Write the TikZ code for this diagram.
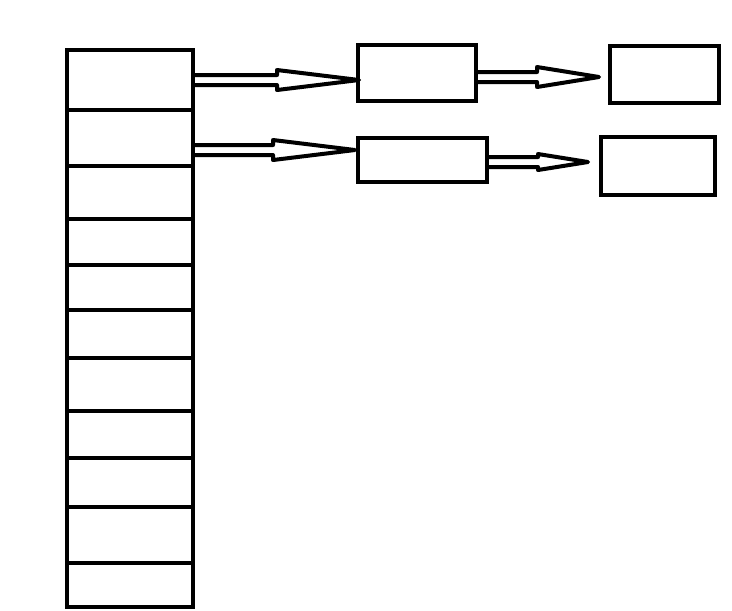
\documentclass[tikz,border=0pt]{standalone}
\usetikzlibrary{calc}

% hollow arrow: start node, tip, head length, head half-height
\newcommand{\hollowarrow}[4]{%
  \draw[harrow] ($(#1 |- #2)+(0,-5)$) -- ($(#2)+(-#3,-5)$) -- ($(#2)+(-#3,-#4)$)
    -- (#2) -- ($(#2)+(-#3,#4)$) -- ($(#2)+(-#3,5)$) -- ($(#1 |- #2)+(0,5)$);
}

\begin{document}
\begin{tikzpicture}[
  x=0.02cm, y=-0.02cm, line width=0.08cm,
  cell/.style={draw, minimum width=2.52cm, inner sep=0pt},
  box/.style={draw, inner sep=0pt},
  harrow/.style={line join=round, line cap=round}
]
  \useasboundingbox (0,0) rectangle (732,610);

  % table slots
  \foreach \ya/\yb [count=\i] in {50/110,110/166,166/219,219/265,265/310,310/358,358/411,411/458,458/507,507/563,563/607}{
    \pgfmathsetmacro{\h}{(\yb-\ya)*0.02}
    \node[cell, minimum height=\h cm] (cell\i) at (130,{(\ya+\yb)/2}) {};
  }

  % chained entries
  \node[box, minimum width=2.36cm, minimum height=1.12cm] (box1) at (417,73) {};
  \node[box, minimum width=2.18cm, minimum height=1.14cm] (box2) at (664.5,74.5) {};
  \node[box, minimum width=2.58cm, minimum height=0.88cm] (box3) at (422.5,160) {};
  \node[box, minimum width=2.28cm, minimum height=1.16cm] (box4) at (658,166) {};

  \coordinate (tip1) at ($(box1.west)+(3,7)$);
  \coordinate (tip2) at ($(box3.west)+(-1,-10)$);
  \coordinate (tip3) at ($(box2.west)+(-9,2.5)$);
  \coordinate (tip4) at ($(box4.west)+(-11,-4)$);

  \hollowarrow{cell1.east}{tip1}{82}{10}
  \hollowarrow{cell2.east}{tip2}{82}{10}
  \hollowarrow{box1.east}{tip3}{62}{10}
  \hollowarrow{box3.east}{tip4}{50}{8}
\end{tikzpicture}
\end{document}
